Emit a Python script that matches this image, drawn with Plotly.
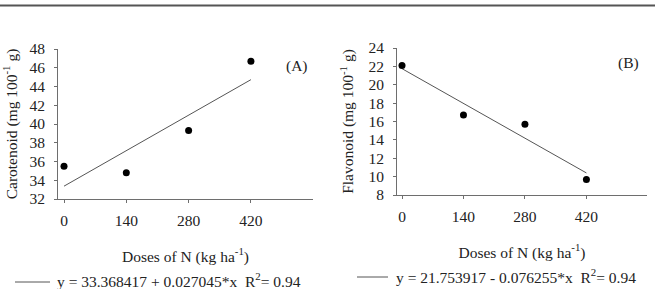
import plotly.graph_objects as go

doses = [0, 140, 280, 420]
carotenoid = [35.5, 34.8, 39.3, 46.7]
flavonoid = [22.1, 16.7, 15.7, 9.7]
fit_x = [0, 420]
fit_a_y = [33.37, 44.73]
fit_b_y = [21.75, 10.4]
x_ticks = [0, 140, 280, 420]
y_ticks_a = [32, 34, 36, 38, 40, 42, 44, 46, 48]
y_ticks_b = [8, 10, 12, 14, 16, 18, 20, 22, 24]
eq_a = "y = 33.368417 + 0.027045*x  R<sup>2</sup>= 0.94"
eq_b = "y = 21.753917 - 0.076255*x  R<sup>2</sup>= 0.94"

W, H = 655, 289
FONT = "Liberation Serif"
FS = 15.5
AX = "#6e6e6e"
LINE = "#555555"
TXT = "#222222"

fig = go.Figure()

fig.add_trace(go.Scatter(x=fit_x, y=fit_a_y, mode="lines", line=dict(color=LINE, width=1),
                         showlegend=False, xaxis="x", yaxis="y"))
fig.add_trace(go.Scatter(x=doses, y=carotenoid, mode="markers",
                         marker=dict(color="black", size=7), showlegend=False,
                         xaxis="x", yaxis="y"))
fig.add_trace(go.Scatter(x=fit_x, y=fit_b_y, mode="lines", line=dict(color=LINE, width=1),
                         showlegend=False, xaxis="x2", yaxis="y2"))
fig.add_trace(go.Scatter(x=doses, y=flavonoid, mode="markers",
                         marker=dict(color="black", size=7), showlegend=False,
                         xaxis="x2", yaxis="y2"))

def px_x(p):
    return p / W

def px_y(p):
    return 1 - p / H

font = dict(family=FONT, size=FS, color=TXT)

common_x = dict(showgrid=False, zeroline=False, showline=True, linecolor=AX, linewidth=1,
                ticks="outside", ticklen=3, tickcolor=AX, tickvals=x_ticks,
                tickfont=font, ticklabelstandoff=4, automargin=False,
                title=dict(text="Doses of N (kg ha<sup>-1</sup>)", font=font, standoff=23))
common_y = dict(showgrid=False, zeroline=False, showline=True, linecolor=AX, linewidth=1,
                ticks="outside", ticklen=3, tickcolor=AX, tickfont=font, ticklabelstandoff=6,
                automargin=False)

fig.update_layout(
    width=W, height=H, margin=dict(l=0, r=0, t=0, b=0),
    paper_bgcolor="white", plot_bgcolor="white",
    font=font, showlegend=False,
    xaxis=dict(common_x, domain=[px_x(58), px_x(313)], range=[-13.5, 559.5], anchor="y"),
    yaxis=dict(common_y, domain=[px_y(199), px_y(49)], range=[32, 48], tickvals=y_ticks_a, anchor="x",
               title=dict(text="Carotenoid (mg 100<sup>-1</sup> g)", font=font, standoff=10)),
    xaxis2=dict(common_x, domain=[px_x(397), px_x(647)], range=[-11.4, 558], anchor="y2"),
    yaxis2=dict(common_y, domain=[px_y(195), px_y(48)], range=[8, 24], tickvals=y_ticks_b, anchor="x2",
                title=dict(text="Flavonoid (mg 100<sup>-1</sup> g)", font=font, standoff=10)),
    annotations=[
        dict(text="(A)", x=px_x(297), y=px_y(66), xref="paper", yref="paper", showarrow=False,
             xanchor="center", yanchor="middle", font=font),
        dict(text="(B)", x=px_x(628), y=px_y(63), xref="paper", yref="paper", showarrow=False,
             xanchor="center", yanchor="middle", font=font),
        dict(text=eq_a, x=px_x(55), y=px_y(279.5), xref="paper", yref="paper", showarrow=False,
             xanchor="left", yanchor="middle", font=font),
        dict(text=eq_b, x=px_x(394), y=px_y(276), xref="paper", yref="paper", showarrow=False,
             xanchor="left", yanchor="middle", font=font),
    ],
    shapes=[
        dict(type="line", xref="paper", yref="paper", x0=0, x1=1, y0=px_y(5.5), y1=px_y(5.5),
             line=dict(color="#555555", width=2)),
        dict(type="line", xref="paper", yref="paper", x0=px_x(15), x1=px_x(50), y0=px_y(282), y1=px_y(282),
             line=dict(color=LINE, width=1)),
        dict(type="line", xref="paper", yref="paper", x0=px_x(357), x1=px_x(388), y0=px_y(277), y1=px_y(277),
             line=dict(color=LINE, width=1)),
    ],
)

fig.write_html("out.html")
